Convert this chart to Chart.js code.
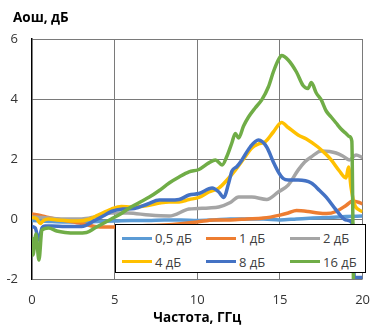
<!DOCTYPE html>
<html>
<head>
<meta charset="utf-8">
<script src="https://cdn.jsdelivr.net/npm/chart.js@4.4.1/dist/chart.umd.min.js"></script>
<style>
  html, body { margin: 0; padding: 0; background: #fff; }
  #wrap { position: relative; width: 383px; height: 329px; font-family: "Open Sans", sans-serif; }
  #yTitle { position: absolute; left: 13px; top: 8px; font-weight: bold; font-size: 13.5px; color: #000; }
  #legend {
    position: absolute; left: 115px; top: 224px; width: 243px; height: 47px;
    padding-left: 6px; border: 1.5px solid #000; background: #fff;
    display: grid; grid-template-columns: 84px 84px 75px; grid-template-rows: 26px 21px;
    font-size: 13px; color: #404040;
  }
  .item { display: flex; align-items: center; }
  .swatch { display: inline-block; width: 30px; height: 3px; margin-right: 3px; }
</style>
</head>
<body>
<div id="wrap">
  <canvas id="chart" width="383" height="329"></canvas>
  <div id="yTitle">Аош, дБ</div>
  <div id="legend"></div>
</div>
<script>
const seriesLabels = ['0,5 дБ', '1 дБ', '2 дБ', '4 дБ', '8 дБ', '16 дБ'];
const seriesColors = ['#5B9BD5', '#ED7D31', '#A5A5A5', '#FFC000', '#4472C4', '#70AD47'];

// 0,5 dB
const f05 = [0, 1, 2, 3, 4, 5, 6, 7, 8, 9, 10, 11, 12, 13, 14, 15, 16, 17, 18, 19, 20];
const a05 = [-0.05, -0.08, -0.1, -0.1, -0.08, -0.07, -0.05, -0.05, -0.03, -0.03, -0.05, -0.03, 0.0, 0.0, 0.0, -0.03, 0.0, 0.03, 0.05, 0.08, 0.1];

// 1 dB
const f1 = [0, 0.5, 1, 2, 3, 3.8, 4.5, 5.5, 7, 8.5, 10, 11, 12, 13, 14, 15, 15.5, 16, 16.7, 17.3, 17.8, 18.4, 19.0, 19.4, 19.8, 20];
const a1 = [0.17, 0.12, 0.05, -0.05, -0.15, -0.25, -0.27, -0.25, -0.22, -0.18, -0.1, -0.03, -0.03, 0.0, 0.03, 0.13, 0.2, 0.28, 0.25, 0.2, 0.18, 0.25, 0.45, 0.6, 0.55, 0.5];

// 2 dB
const f2 = [0, 1, 2, 3, 3.8, 4.8, 5.8, 7.1, 8.3, 9.5, 10.7, 11.3, 12.0, 12.5, 13.3, 14.2, 14.9, 15.5, 16.1, 16.5, 16.9, 17.5, 18.0, 18.4, 18.8, 19.2, 19.6, 20];
const a2 = [0.07, 0.03, 0.0, 0.0, 0.07, 0.2, 0.2, 0.13, 0.1, 0.33, 0.37, 0.4, 0.55, 0.73, 0.73, 0.65, 0.9, 1.13, 1.63, 1.9, 2.07, 2.27, 2.25, 2.2, 2.1, 1.97, 2.13, 2.05];

// 4 dB
const f4 = [0, 0.3, 0.5, 0.7, 1.0, 1.5, 2, 2.8, 3.5, 4.0, 4.8, 5.4, 6, 7, 7.7, 8.3, 8.9, 9.5, 10.1, 10.7, 11.3, 11.8, 12.3, 12.8, 13.3, 13.7, 14.1, 14.6, 15.1, 15.5, 16.1, 16.6, 17.3, 17.7, 18.1, 18.6, 19.0, 19.15, 19.3, 19.5, 19.8, 20];
const a4 = [0.05, 0.0, -0.15, -0.05, 0.0, -0.03, -0.05, -0.07, 0.0, 0.13, 0.33, 0.42, 0.4, 0.45, 0.53, 0.57, 0.57, 0.65, 0.72, 0.9, 1.03, 1.3, 1.63, 2.0, 2.37, 2.5, 2.57, 2.9, 3.22, 3.05, 2.8, 2.67, 2.4, 2.2, 1.97, 1.6, 1.37, 1.73, 1.07, 0.5, 0.3, 0.25];

// 8 dB
const f8 = [0, 0.2, 0.4, 0.6, 0.8, 1.2, 2, 3, 3.8, 4.3, 4.8, 5.5, 6.2, 7, 7.7, 8.3, 8.9, 9.5, 10.1, 10.9, 11.3, 11.6, 11.9, 12.1, 12.4, 12.7, 13.2, 13.7, 14.2, 14.6, 14.9, 15.2, 15.5, 16.1, 16.9, 17.4, 17.8, 18.4, 19.0, 19.4, 19.5, 20];
const a8 = [-0.25, -0.3, -0.7, -0.3, -0.23, -0.23, -0.25, -0.25, -0.05, 0.1, 0.25, 0.33, 0.35, 0.5, 0.63, 0.63, 0.65, 0.8, 0.85, 1.03, 0.9, 0.72, 1.2, 1.6, 1.75, 1.97, 2.4, 2.63, 2.4, 1.9, 1.57, 1.35, 1.3, 1.3, 1.2, 0.95, 0.73, 0.3, -0.03, -0.15, -1.95, -1.95];

// 16 dB
const f16 = [0, 0.06, 0.24, 0.42, 0.6, 1, 1.5, 2, 2.7, 3.3, 3.8, 4.3, 4.8, 5.3, 5.9, 6.5, 7.1, 7.7, 8.3, 8.9, 9.5, 10.1, 10.7, 11.1, 11.5, 11.8, 12.1, 12.3, 12.5, 12.8, 13.1, 13.5, 13.9, 14.3, 14.6, 14.9, 15.1, 15.5, 16.0, 16.4, 16.7, 16.9, 17.2, 17.5, 17.8, 18.1, 18.4, 18.7, 19.0, 19.2, 19.35, 19.45];
const a16 = [-0.6, -1.2, -0.5, -1.37, -0.37, -0.3, -0.4, -0.45, -0.47, -0.45, -0.3, -0.15, 0.0, 0.15, 0.37, 0.55, 0.73, 0.95, 1.2, 1.4, 1.57, 1.65, 1.87, 1.97, 1.8, 2.1, 2.55, 2.85, 2.7, 3.1, 3.4, 3.7, 3.97, 4.4, 4.9, 5.3, 5.45, 5.3, 4.9, 4.45, 4.35, 4.55, 4.2, 3.97, 3.6, 3.4, 3.2, 3.0, 2.85, 2.75, 2.6, -2.2];

const freqs = [f05, f1, f2, f4, f8, f16];
const values = [a05, a1, a2, a4, a8, a16];

const xTicks = [0, 5, 10, 15, 20];
const yTicks = [-2, 0, 2, 4, 6];

const datasets = seriesLabels.map((label, i) => ({
    label: label,
    data: freqs[i].map((f, j) => ({ x: f, y: values[i][j] })),
    borderColor: seriesColors[i],
    backgroundColor: seriesColors[i],
    order: seriesLabels.length - i,
}));

const tickFont = { family: '"Open Sans", sans-serif', size: 13 };
const gridColor = '#7a7a7a';

new Chart('chart', {
    type: 'line',
    data: { datasets: datasets },
    options: {
        responsive: false,
        animation: false,
        layout: { padding: { top: 39, right: 19, left: 0, bottom: 0 } },
        plugins: {
            legend: { display: false },
            tooltip: { enabled: false }
        },
        elements: {
            point: { radius: 0 },
            line: { borderWidth: 3.5, cubicInterpolationMode: 'monotone' }
        },
        scales: {
            x: {
                type: 'linear',
                min: xTicks[0],
                max: xTicks[xTicks.length - 1],
                afterBuildTicks: s => { s.ticks = xTicks.map(v => ({ value: v })); },
                afterFit: s => { s.height = 50; },
                ticks: { color: '#333', font: tickFont, padding: 13, maxRotation: 0 },
                grid: {
                    drawTicks: false,
                    color: ctx => ctx.tick && ctx.tick.value === 0 ? 'rgba(0,0,0,0)' : gridColor
                },
                border: { display: false },
                title: {
                    display: true,
                    text: 'Частота, ГГц',
                    color: '#000',
                    font: { family: '"Open Sans", sans-serif', size: 13.5, weight: 'bold' },
                    padding: { top: 0, bottom: 3 }
                }
            },
            y: {
                min: yTicks[0],
                max: yTicks[yTicks.length - 1],
                afterBuildTicks: s => { s.ticks = yTicks.map(v => ({ value: v })); },
                afterFit: s => { s.width = 32; },
                ticks: { color: '#333', font: tickFont, padding: 14 },
                grid: { drawTicks: false, color: gridColor },
                border: { color: '#000', width: 1.5 }
            }
        }
    }
});

const legendBox = document.getElementById('legend');
seriesLabels.forEach((label, i) => {
    const item = document.createElement('div');
    item.className = 'item';
    const sw = document.createElement('span');
    sw.className = 'swatch';
    sw.style.background = seriesColors[i];
    item.appendChild(sw);
    item.appendChild(document.createTextNode(label));
    legendBox.appendChild(item);
});
</script>
</body>
</html>
